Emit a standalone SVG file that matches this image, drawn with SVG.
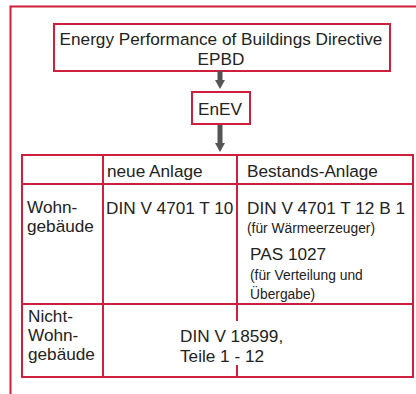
<svg xmlns="http://www.w3.org/2000/svg" width="416" height="394" viewBox="0 0 416 394">
<style>
.b{fill:#fff;stroke:#cf1f3d;stroke-width:2}
.l{stroke:#cf1f3d;stroke-width:2;fill:none}
text{font-family:"Liberation Sans",Arial,sans-serif;fill:#222}
.t17{font-size:17.2px}
.t16{font-size:17.2px}
.t12{font-size:13.8px}
.a{stroke:#555;stroke-width:5}
.ah{fill:#555}
</style>
<rect width="416" height="394" fill="#fff"/>
<g id="frame"><path class="l" d="M10.5 394V6.5H416"/></g>
<g id="epbd">
<rect class="b" x="54" y="24" width="336" height="47"/>
<text class="t17" x="221" y="45" text-anchor="middle">Energy Performance of Buildings Directive</text>
<text class="t17" x="221" y="65" text-anchor="middle">EPBD</text>
</g>
<g id="enev">
<rect class="b" x="192" y="92" width="58" height="32"/>
<text class="t17" x="220" y="115" text-anchor="middle">EnEV</text>
</g>
<g id="connectors">
<line class="a" x1="220" y1="71" x2="220" y2="81"/>
<polygon class="ah" points="215,80 225,80 220,89"/>
<line class="a" x1="220" y1="125" x2="220" y2="144"/>
<polygon class="ah" points="215,143 225,143 220,152"/>
</g>
<g id="table">
<rect class="b" x="22" y="155" width="391" height="222"/>
<path class="l" d="M22 184H413M22 304H413M103 155V377M237 155V304M237 304V321M237 365V377"/>
<text class="t16" x="107" y="177">neue Anlage</text>
<text class="t16" x="247" y="177">Bestands-Anlage</text>
<text class="t16" x="27" y="213">Wohn-</text>
<text class="t16" x="27" y="232">gebäude</text>
<text class="t16" x="106" y="214">DIN V 4701 T 10</text>
<text class="t16" x="247" y="214">DIN V 4701 T 12 B 1</text>
<text class="t12" x="247" y="233">(für Wärmeerzeuger)</text>
<text class="t16" x="250" y="260">PAS 1027</text>
<text class="t12" x="250" y="280">(für Verteilung und</text>
<text class="t12" x="250" y="299">Übergabe)</text>
<text class="t16" x="28" y="322">Nicht-</text>
<text class="t16" x="28" y="341">Wohn-</text>
<text class="t16" x="28" y="360">gebäude</text>
<text class="t16" x="180" y="342">DIN V 18599,</text>
<text class="t16" x="180" y="362">Teile 1 - 12</text>
</g>
</svg>
